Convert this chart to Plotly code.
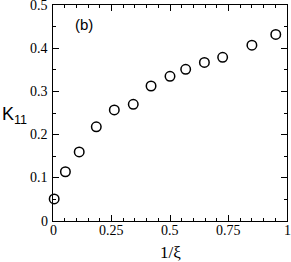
import plotly.graph_objects as go

inv_xi = [0.005, 0.053, 0.112, 0.185, 0.262, 0.343, 0.419, 0.500, 0.567, 0.647, 0.725, 0.850, 0.952]
k11 = [0.051, 0.114, 0.160, 0.218, 0.257, 0.270, 0.3125, 0.335, 0.351, 0.367, 0.379, 0.407, 0.432]

x_ticks = [0, 0.25, 0.5, 0.75, 1]
x_labels = ["0", "0.25", "0.5", "0.75", "1"]
y_ticks = [0, 0.1, 0.2, 0.3, 0.4, 0.5]
y_labels = ["0", "0.1", "0.2", "0.3", "0.4", "0.5"]

serif = "Liberation Serif, Times New Roman, serif"
sans = "Liberation Sans, Arial, sans-serif"

fig = go.Figure()
fig.add_trace(go.Scatter(
    x=inv_xi, y=k11, mode="markers",
    marker=dict(symbol="circle-open", size=9.5, color="black", line=dict(width=1.5, color="black")),
    showlegend=False, cliponaxis=False,
))

axis_common = dict(
    showgrid=False, zeroline=False, showline=True, linecolor="black", linewidth=1,
    mirror="ticks", ticks="inside", ticklen=6, tickwidth=1, tickcolor="black",
    showticklabels=False,
    minor=dict(ticks="inside", ticklen=3, tickwidth=1, tickcolor="black", showgrid=False),
)

annotations = []
for v, t in zip(x_ticks, x_labels):
    annotations.append(dict(text=t, x=v, y=0, xref="x", yref="paper", showarrow=False,
                            xanchor="center", yanchor="middle", yshift=-9.5,
                            font=dict(family=serif, size=14, color="black")))
for v, t in zip(y_ticks, y_labels):
    annotations.append(dict(text=t, x=0, y=v, xref="paper", yref="y", showarrow=False,
                            xanchor="right", yanchor="middle", xshift=-3,
                            font=dict(family=serif, size=14, color="black")))
annotations += [
    dict(text="(b)", x=0.085, y=0.454, xref="x", yref="y", showarrow=False,
         xanchor="left", yanchor="middle", font=dict(family=sans, size=15, color="black")),
    dict(text="1/ξ", x=0.5, y=0, xref="paper", yref="paper", showarrow=False,
         xanchor="center", yanchor="middle", yshift=-31, font=dict(family=serif, size=17, color="black")),
    dict(text="K<sub>11</sub>", x=0, y=0.5, xref="paper", yref="paper", showarrow=False,
         xanchor="left", yanchor="middle", xshift=-53, yshift=-2, font=dict(family=sans, size=18, color="black")),
]

fig.update_layout(
    width=291, height=262,
    margin=dict(l=53, r=4, t=5, b=41),
    plot_bgcolor="white", paper_bgcolor="white",
    xaxis=dict(range=[0, 1], tickvals=x_ticks, **axis_common),
    yaxis=dict(range=[0, 0.5], tickvals=y_ticks, **axis_common),
    annotations=annotations,
)

fig.write_html("out.html", config={"displayModeBar": False},
               post_script="document.body.style.margin='0';")
